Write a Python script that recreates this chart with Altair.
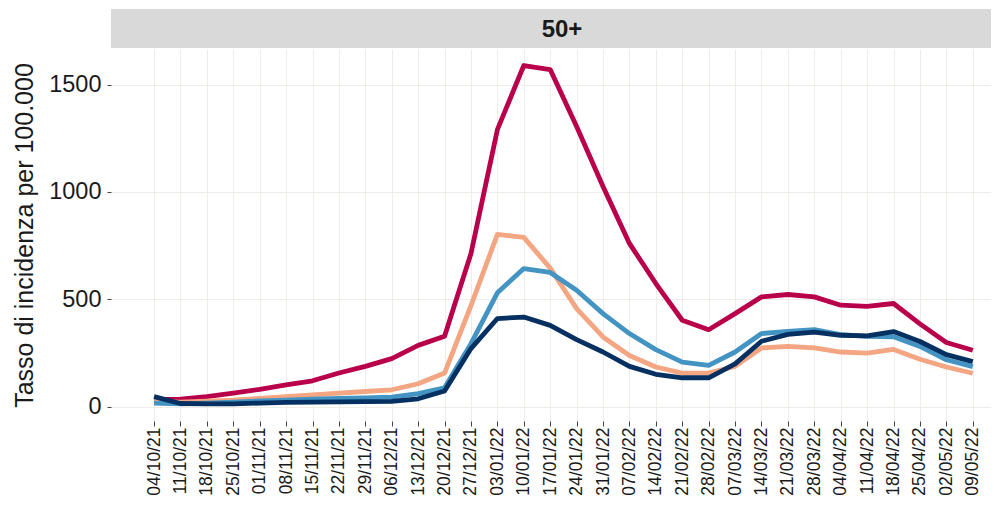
import json
import altair as alt
import pandas as pd

date_labels = ["04/10/21", "11/10/21", "18/10/21", "25/10/21", "01/11/21", "08/11/21",
               "15/11/21", "22/11/21", "29/11/21", "06/12/21", "13/12/21", "20/12/21",
               "27/12/21", "03/01/22", "10/01/22", "17/01/22", "24/01/22", "31/01/22",
               "07/02/22", "14/02/22", "21/02/22", "28/02/22", "07/03/22", "14/03/22",
               "21/03/22", "28/03/22", "04/04/22", "11/04/22", "18/04/22", "25/04/22",
               "02/05/22", "09/05/22"]

series_names = ["Non vaccinati", "Vaccinati > 120 gg", "Vaccinati < 120 gg", "Vaccinati con dose booster"]
series_colors = ["#B8004B", "#F4A582", "#4393C3", "#053061"]

non_vacc = [32, 34, 46, 62, 80, 101, 120, 156, 187, 223, 285, 327, 713, 1290, 1589, 1570,
            1305, 1025, 760, 573, 402, 358, 433, 511, 522, 511, 472, 467, 480, 385, 298, 262]
vacc_old = [25, 20, 25, 30, 38, 46, 54, 62, 70, 78, 106, 156, 470, 802, 788, 645,
            456, 324, 238, 184, 156, 156, 187, 273, 280, 273, 254, 249, 266, 220, 184, 155]
vacc_new = [16, 12, 16, 20, 26, 30, 34, 38, 40, 44, 60, 87, 293, 530, 643, 625,
            542, 433, 340, 265, 207, 192, 254, 340, 350, 358, 335, 327, 325, 280, 218, 186]
booster = [46, 14, 12, 12, 16, 19, 20, 22, 23, 24, 36, 72, 270, 410, 417, 378,
           312, 254, 187, 150, 134, 134, 199, 304, 336, 347, 332, 329, 349, 303, 242, 209]

all_series = [non_vacc, vacc_old, vacc_new, booster]
rows = []
for si, (name, vals) in enumerate(zip(series_names, all_series)):
    for i, v in enumerate(vals):
        rows.append({"week": i, "label": date_labels[i], "serie": name, "ord": si, "value": v})
df = pd.DataFrame(rows)

W, H = 880, 372
label_expr = json.dumps(date_labels) + "[datum.value]"

lines = alt.Chart(df).mark_line(strokeWidth=4.8, strokeJoin="round").encode(
    x=alt.X("week:Q",
            scale=alt.Scale(domain=[-1.63, 31.69], nice=False, zero=False),
            axis=alt.Axis(values=list(range(len(date_labels))), labelExpr=label_expr,
                          labelAngle=270, labelFontSize=17.5, labelColor="#1a1a1a",
                          labelPadding=1, tickSize=5, tickColor="#444444",
                          grid=True, gridColor="#EEEDE8", domain=False, title=None,
                          labelOverlap=False)),
    y=alt.Y("value:Q",
            scale=alt.Scale(domain=[-67.5, 1666], nice=False, zero=False),
            axis=alt.Axis(values=[0, 500, 1000, 1500], format="d", labelFontSize=23.5,
                          labelColor="#1a1a1a", labelPadding=6, tickSize=4, tickColor="#444444",
                          grid=True, gridColor="#EEEDE8", domain=False,
                          title="Tasso di incidenza per 100.000", titleFontSize=25,
                          titleFontWeight="normal", titleColor="#1a1a1a", titlePadding=11)),
    color=alt.Color("serie:N", scale=alt.Scale(domain=series_names, range=series_colors), legend=None),
    order=alt.Order("ord:Q"),
    detail="serie:N",
)

strip = alt.Chart(pd.DataFrame({"t": ["50+"]})).mark_rect(color="#D9D9D9").encode(
    x=alt.value(0), x2=alt.value(W), y=alt.value(-40), y2=alt.value(-1)
)
strip_text = alt.Chart(pd.DataFrame({"t": ["50+"]})).mark_text(
    fontSize=24, fontWeight="bold", color="#1a1a1a", baseline="middle", align="center"
).encode(x=alt.value(451), y=alt.value(-19), text="t:N")

chart = alt.layer(strip, strip_text, lines).properties(
    width=W, height=H,
    autosize=alt.AutoSizeParams(type="none"),
    padding={"left": 103, "top": 41, "right": 0, "bottom": 75},
).configure(font="Liberation Sans").configure_view(stroke=None)

chart.save("out.html", embed_options={"renderer": "svg", "actions": False})
